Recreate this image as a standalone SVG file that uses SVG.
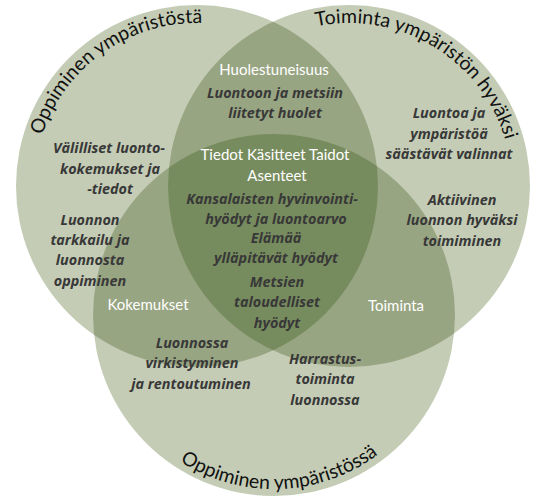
<svg xmlns="http://www.w3.org/2000/svg" width="550" height="496" viewBox="0 0 550 496">
<style>
.light{fill:#C4CCB5}
.mid{fill:#98A582}
.dark{fill:#778C5E}
.lbl{font-family:Lato,"Liberation Sans",sans-serif;font-size:15px;fill:#ffffff;text-anchor:middle}
.it{font-family:"Open Sans","Liberation Sans",sans-serif;font-size:14.4px;font-weight:bold;font-style:italic;fill:#383838;text-anchor:middle}
.arc{font-family:Lato,"Liberation Sans",sans-serif;font-size:19.5px;fill:#111111}
</style>
<defs>
<clipPath id="cL"><circle cx="197" cy="186" r="181"/></clipPath>
<clipPath id="cR"><circle cx="349" cy="186" r="181"/></clipPath>
<path id="pL" d="M36.5,214.3 A163,163 0 0 1 278.5,44.8" fill="none"/>
<path id="pR" d="M257.9,50.9 A163,163 0 0 1 511.1,203.0" fill="none"/>
<path id="pB" d="M119,394 A174,174 0 0 0 434.2,383" fill="none"/>
</defs>
<rect width="550" height="496" fill="#ffffff"/>
<g id="circle-left"><circle class="light" cx="197" cy="186" r="181"/></g>
<g id="circle-right"><circle class="light" cx="349" cy="186" r="181"/></g>
<g id="circle-bottom"><circle class="light" cx="274" cy="315" r="181"/></g>
<g id="overlap-left-right" clip-path="url(#cL)"><circle class="mid" cx="349" cy="186" r="181"/></g>
<g id="overlap-left-bottom" clip-path="url(#cL)"><circle class="mid" cx="274" cy="315" r="181"/></g>
<g id="overlap-right-bottom" clip-path="url(#cR)"><circle class="mid" cx="274" cy="315" r="181"/></g>
<g id="overlap-center" clip-path="url(#cL)"><g clip-path="url(#cR)"><circle class="dark" cx="274" cy="315" r="181"/></g></g>

<g id="labels-left">
<text class="arc"><textPath href="#pL" startOffset="50%" text-anchor="middle">Oppiminen ympäristöstä</textPath></text>
<text class="it" x="109" y="153">Välilliset luonto-</text>
<text class="it" x="110" y="174">kokemukset ja</text>
<text class="it" x="110" y="194">-tiedot</text>
<text class="it" x="90" y="225">Luonnon</text>
<text class="it" x="90" y="245">tarkkailu ja</text>
<text class="it" x="90" y="265">luonnosta</text>
<text class="it" x="90" y="286">oppiminen</text>
</g>
<g id="labels-right">
<text class="arc"><textPath href="#pR" startOffset="50%" text-anchor="middle">Toiminta ympäristön hyväksi</textPath></text>
<text class="it" x="449" y="118">Luontoa ja</text>
<text class="it" x="449" y="139">ympäristöä</text>
<text class="it" x="449" y="159">säästävät valinnat</text>
<text class="it" x="462" y="205">Aktiivinen</text>
<text class="it" x="462" y="225">luonnon hyväksi</text>
<text class="it" x="462" y="246">toimiminen</text>
</g>
<g id="labels-bottom">
<text class="arc"><textPath href="#pB" startOffset="50%" text-anchor="middle">Oppiminen ympäristössä</textPath></text>
</g>
<g id="labels-left-right">
<text class="lbl" x="274" y="75">Huolestuneisuus</text>
<text class="it" x="275" y="98">Luontoon ja metsiin</text>
<text class="it" x="275" y="118">liitetyt huolet</text>
</g>
<g id="labels-center">
<text class="lbl" x="275" y="160">Tiedot Käsitteet Taidot</text>
<text class="lbl" x="277" y="181">Asenteet</text>
<text class="it" x="272" y="204">Kansalaisten hyvinvointi-</text>
<text class="it" x="276" y="224">hyödyt ja luontoarvo</text>
<text class="it" x="276" y="243">Elämää</text>
<text class="it" x="276" y="263">ylläpitävät hyödyt</text>
<text class="it" x="277" y="287">Metsien</text>
<text class="it" x="277" y="307">taloudelliset</text>
<text class="it" x="277" y="328">hyödyt</text>
</g>
<g id="labels-left-bottom">
<text class="lbl" x="148" y="310">Kokemukset</text>
<text class="it" x="192" y="348">Luonnossa</text>
<text class="it" x="192" y="368">virkistyminen</text>
<text class="it" x="191" y="389">ja rentoutuminen</text>
</g>
<g id="labels-right-bottom">
<text class="lbl" x="396" y="311">Toiminta</text>
<text class="it" x="325" y="364">Harrastus-</text>
<text class="it" x="325" y="384">toiminta</text>
<text class="it" x="325" y="405">luonnossa</text>
</g>
</svg>
